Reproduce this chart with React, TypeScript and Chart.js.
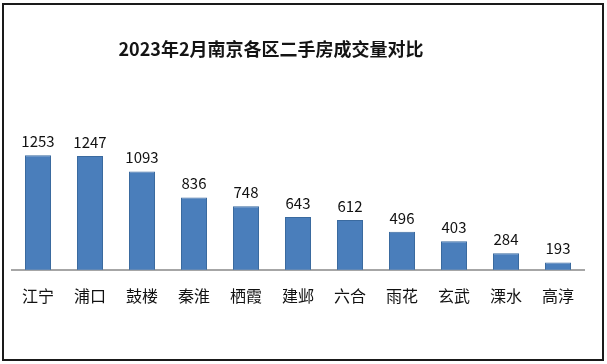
import React, { useEffect, useRef } from "react";
import { Chart, registerables } from "chart.js";

Chart.register(...registerables);

const titleText = "2023年2月南京各区二手房成交量对比";
const districts = ["江宁", "浦口", "鼓楼", "秦淮", "栖霞", "建邺", "六合", "雨花", "玄武", "溧水", "高淳"];
const volumes = [1253, 1247, 1093, 836, 748, 643, 612, 496, 403, 284, 193];

const FONT = '"Noto Sans CJK SC", "Noto Sans", sans-serif';

export default function App() {
  const ref = useRef<HTMLCanvasElement | null>(null);

  useEffect(() => {
    document.body.style.margin = "0";
    const canvas = ref.current;
    if (!canvas) return;

    const labelPlugin = {
      id: "valueLabels",
      afterDatasetsDraw(chart: any) {
        const ctx = chart.ctx;
        const meta = chart.getDatasetMeta(0);
        ctx.save();
        ctx.fillStyle = "#111111";
        ctx.font = `15px ${FONT}`;
        ctx.textAlign = "center";
        ctx.textBaseline = "alphabetic";
        meta.data.forEach((bar: any, i: number) => {
          ctx.fillText(String(volumes[i]), bar.x, bar.y - 8);
        });
        ctx.restore();
      },
      afterDraw(chart: any) {
        const ctx = chart.ctx;
        ctx.save();
        ctx.fillStyle = "#141414";
        ctx.font = `bold 18px ${FONT}`;
        ctx.textAlign = "center";
        ctx.textBaseline = "middle";
        ctx.fillText(titleText, 271, 49);
        ctx.restore();
      },
    };

    const chart = new Chart(canvas, {
      type: "bar",
      data: {
        labels: districts,
        datasets: [
          {
            data: volumes,
            backgroundColor: "#4A7EBB",
            borderColor: "#3A6A9F",
            borderWidth: 1,
            barPercentage: 0.5,
            categoryPercentage: 1,
          },
        ],
      },
      options: {
        animation: false,
        responsive: false,
        maintainAspectRatio: false,
        layout: { padding: { left: 12, right: 23, top: 100, bottom: 49 } },
        plugins: {
          legend: { display: false },
          title: { display: false },
          tooltip: { enabled: false },
        },
        scales: {
          x: {
            grid: { display: false },
            border: { display: true, color: "#A6A6A6", width: 2 },
            ticks: {
              color: "#111111",
              padding: 9,
              font: { family: FONT, size: 16 },
            },
          },
          y: {
            display: false,
            min: 120,
            max: 1800,
          },
        },
      },
      plugins: [labelPlugin],
    });

    return () => chart.destroy();
  }, []);

  return (
    <div style={{ position: "relative", width: 607, height: 364, background: "#ffffff" }}>
      <canvas ref={ref} width={607} height={364} style={{ display: "block", width: 607, height: 364 }} />
      <div
        style={{
          position: "absolute",
          left: 2,
          top: 3,
          width: 602,
          height: 358,
          boxSizing: "border-box",
          border: "2px solid #1a1a1a",
          pointerEvents: "none",
        }}
      />
    </div>
  );
}
